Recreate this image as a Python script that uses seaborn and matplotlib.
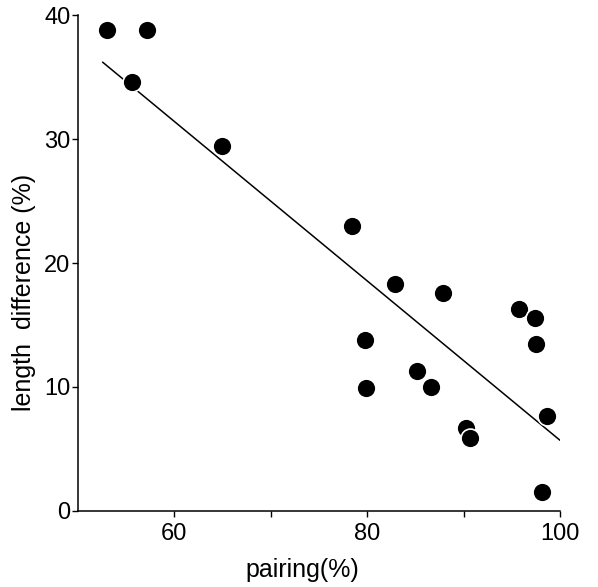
import matplotlib
matplotlib.use("Agg")
import matplotlib.pyplot as plt
import seaborn as sns
import pandas as pd

# --- data ---
pairing = [53.1, 57.2, 55.6, 65.0, 78.4, 82.9, 87.9, 95.7, 97.4, 97.5,
           79.8, 79.9, 85.2, 86.6, 90.3, 90.7, 98.7, 98.1]
length_diff = [38.8, 38.8, 34.6, 29.4, 23.0, 18.3, 17.6, 16.3, 15.6, 13.5,
               13.8, 9.9, 11.3, 10.0, 6.7, 5.9, 7.7, 1.5]
fit_x = [52.6, 100.0]
fit_y = [36.2, 5.7]
x_ticks = [60, 70, 80, 90, 100]
x_ticklabels = ["60", "", "80", "", "100"]
y_ticks = [0, 10, 20, 30, 40]

df = pd.DataFrame({"pairing": pairing, "length": length_diff})
fit = pd.DataFrame({"x": fit_x, "y": fit_y})

sns.set_style("ticks")
plt.rcParams["font.family"] = ["Liberation Sans", "DejaVu Sans"]
plt.rcParams["text.color"] = "black"
plt.rcParams["axes.labelcolor"] = "black"
plt.rcParams["xtick.color"] = "black"
plt.rcParams["ytick.color"] = "black"

fig = plt.figure(figsize=(5.98, 5.87), dpi=100)
ax = fig.add_axes([0.1296, 0.1295, 0.8069, 0.8449])

# fitted line first, dots on top (white rim cuts the line like in the original)
sns.lineplot(data=fit, x="x", y="y", color="black", linewidth=1.1, ax=ax, zorder=1)
sns.scatterplot(data=df, x="pairing", y="length", color="black", s=185,
                edgecolor="white", linewidth=1.2, ax=ax, zorder=2)

ax.set_xlim(50, 100)
ax.set_ylim(0, 40)
ax.set_xticks(x_ticks)
ax.set_xticklabels(x_ticklabels)
ax.set_yticks(y_ticks)
ax.tick_params(axis="both", labelsize=17, width=1, length=4)
ax.tick_params(axis="x", pad=5)
ax.tick_params(axis="y", pad=1)
for side in ["top", "right"]:
    ax.spines[side].set_visible(False)
for side in ["left", "bottom"]:
    ax.spines[side].set_linewidth(1.1)
    ax.spines[side].set_color("black")

ax.set_xlabel("pairing(%)", fontsize=18)
ax.set_ylabel("length  difference (%)", fontsize=18)
ax.xaxis.set_label_coords(0.465, -0.095)
ax.yaxis.set_label_coords(-0.085, 0.44)

fig.savefig("out.png", dpi=100)
